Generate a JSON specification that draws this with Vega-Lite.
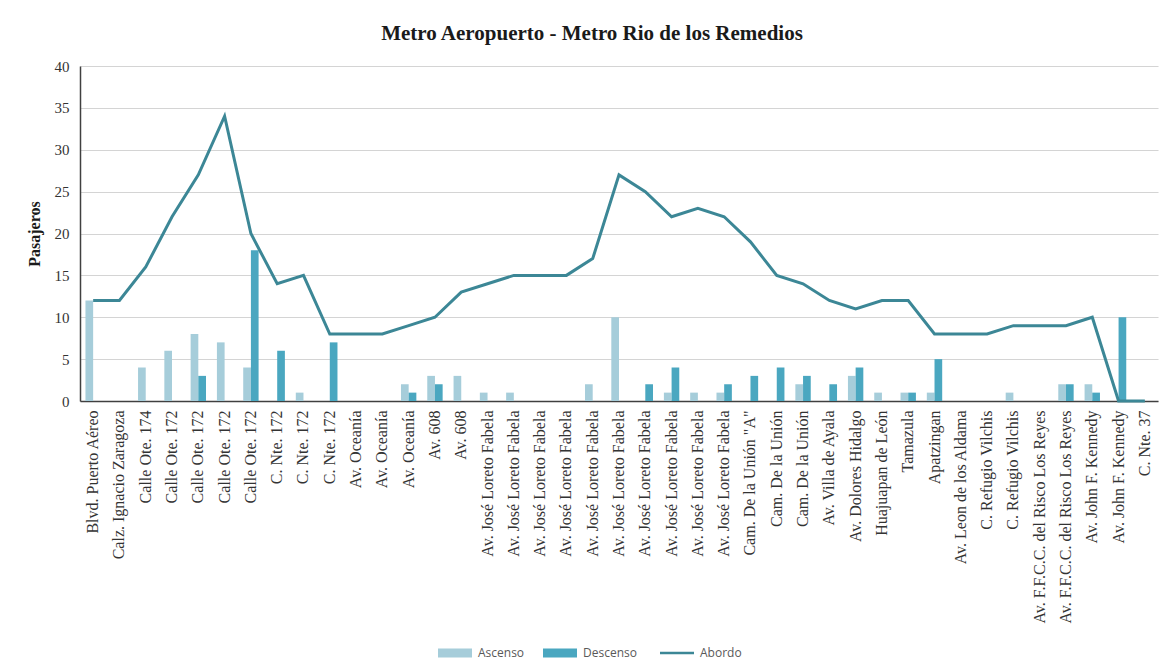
{
  "$schema": "https://vega.github.io/schema/vega-lite/v6.json",
  "autosize": {"type": "none"},
  "width": 1078,
  "height": 335,
  "padding": {"left": 80, "top": 66, "right": 9, "bottom": 270},
  "background": "white",
  "title": {
    "text": "Metro Aeropuerto - Metro Rio de los Remedios",
    "font": "Liberation Serif",
    "fontSize": 21,
    "fontWeight": "bold",
    "color": "#1a1a1a",
    "anchor": "middle",
    "dx": -27,
    "offset": 15
  },
  "data": {
    "values": [
      {"id": "01|Blvd. Puerto Aéreo", "Ascenso": 12, "Descenso": 0, "Abordo": 12},
      {"id": "02|Calz. Ignacio Zaragoza", "Ascenso": 0, "Descenso": 0, "Abordo": 12},
      {"id": "03|Calle Ote. 174", "Ascenso": 4, "Descenso": 0, "Abordo": 16},
      {"id": "04|Calle Ote. 172", "Ascenso": 6, "Descenso": 0, "Abordo": 22},
      {"id": "05|Calle Ote. 172", "Ascenso": 8, "Descenso": 3, "Abordo": 27},
      {"id": "06|Calle Ote. 172", "Ascenso": 7, "Descenso": 0, "Abordo": 34},
      {"id": "07|Calle Ote. 172", "Ascenso": 4, "Descenso": 18, "Abordo": 20},
      {"id": "08|C. Nte. 172", "Ascenso": 0, "Descenso": 6, "Abordo": 14},
      {"id": "09|C. Nte. 172", "Ascenso": 1, "Descenso": 0, "Abordo": 15},
      {"id": "10|C. Nte. 172", "Ascenso": 0, "Descenso": 7, "Abordo": 8},
      {"id": "11|Av. Oceanía", "Ascenso": 0, "Descenso": 0, "Abordo": 8},
      {"id": "12|Av. Oceanía", "Ascenso": 0, "Descenso": 0, "Abordo": 8},
      {"id": "13|Av. Oceanía", "Ascenso": 2, "Descenso": 1, "Abordo": 9},
      {"id": "14|Av. 608", "Ascenso": 3, "Descenso": 2, "Abordo": 10},
      {"id": "15|Av. 608", "Ascenso": 3, "Descenso": 0, "Abordo": 13},
      {"id": "16|Av. José Loreto Fabela", "Ascenso": 1, "Descenso": 0, "Abordo": 14},
      {"id": "17|Av. José Loreto Fabela", "Ascenso": 1, "Descenso": 0, "Abordo": 15},
      {"id": "18|Av. José Loreto Fabela", "Ascenso": 0, "Descenso": 0, "Abordo": 15},
      {"id": "19|Av. José Loreto Fabela", "Ascenso": 0, "Descenso": 0, "Abordo": 15},
      {"id": "20|Av. José Loreto Fabela", "Ascenso": 2, "Descenso": 0, "Abordo": 17},
      {"id": "21|Av. José Loreto Fabela", "Ascenso": 10, "Descenso": 0, "Abordo": 27},
      {"id": "22|Av. José Loreto Fabela", "Ascenso": 0, "Descenso": 2, "Abordo": 25},
      {"id": "23|Av. José Loreto Fabela", "Ascenso": 1, "Descenso": 4, "Abordo": 22},
      {"id": "24|Av. José Loreto Fabela", "Ascenso": 1, "Descenso": 0, "Abordo": 23},
      {"id": "25|Av. José Loreto Fabela", "Ascenso": 1, "Descenso": 2, "Abordo": 22},
      {"id": "26|Cam. De la Unión \"A\"", "Ascenso": 0, "Descenso": 3, "Abordo": 19},
      {"id": "27|Cam. De la Unión", "Ascenso": 0, "Descenso": 4, "Abordo": 15},
      {"id": "28|Cam. De la Unión", "Ascenso": 2, "Descenso": 3, "Abordo": 14},
      {"id": "29|Av. Villa de Ayala", "Ascenso": 0, "Descenso": 2, "Abordo": 12},
      {"id": "30|Av. Dolores Hidalgo", "Ascenso": 3, "Descenso": 4, "Abordo": 11},
      {"id": "31|Huajuapan de León", "Ascenso": 1, "Descenso": 0, "Abordo": 12},
      {"id": "32|Tamazula", "Ascenso": 1, "Descenso": 1, "Abordo": 12},
      {"id": "33|Apatzingan", "Ascenso": 1, "Descenso": 5, "Abordo": 8},
      {"id": "34|Av. Leon de los Aldama", "Ascenso": 0, "Descenso": 0, "Abordo": 8},
      {"id": "35|C. Refugio Vilchis", "Ascenso": 0, "Descenso": 0, "Abordo": 8},
      {"id": "36|C. Refugio Vilchis", "Ascenso": 1, "Descenso": 0, "Abordo": 9},
      {"id": "37|Av. F.F.C.C. del Risco Los Reyes", "Ascenso": 0, "Descenso": 0, "Abordo": 9},
      {"id": "38|Av. F.F.C.C. del Risco Los Reyes", "Ascenso": 2, "Descenso": 2, "Abordo": 9},
      {"id": "39|Av. John F. Kennedy", "Ascenso": 2, "Descenso": 1, "Abordo": 10},
      {"id": "40|Av. John F. Kennedy", "Ascenso": 0, "Descenso": 10, "Abordo": 0},
      {"id": "41|C. Nte. 37", "Ascenso": 0, "Descenso": 0, "Abordo": 0}
    ]
  },
  "encoding": {
    "x": {
      "field": "id",
      "type": "nominal",
      "sort": "ascending",
      "scale": {"paddingInner": 0.415, "paddingOuter": 0.2075},
      "axis": {
        "title": null,
        "labelExpr": "split(datum.value, '|')[1]",
        "labelAngle": -90,
        "labelFont": "Liberation Serif",
        "labelFontSize": 16,
        "labelColor": "#333333",
        "labelPadding": 9,
        "labelLimit": 300,
        "ticks": false,
        "domainColor": "#404040",
        "domainWidth": 1.5,
        "grid": false
      }
    }
  },
  "layer": [
    {
      "transform": [{"fold": ["Ascenso", "Descenso"], "as": ["serie", "valor"]}],
      "mark": {"type": "bar"},
      "encoding": {
        "xOffset": {"field": "serie", "type": "nominal", "scale": {"domain": ["Ascenso", "Descenso"], "paddingInner": 0, "paddingOuter": 0}},
        "y": {
          "field": "valor",
          "type": "quantitative",
          "scale": {"domain": [0, 40]},
          "axis": {
            "title": "Pasajeros",
            "titleFont": "Liberation Serif",
            "titleFontSize": 16,
            "titleFontWeight": "bold",
            "titleColor": "#1a1a1a",
            "titlePadding": 12,
            "values": [0, 5, 10, 15, 20, 25, 30, 35, 40],
            "labelFont": "Liberation Serif",
            "labelFontSize": 15,
            "labelColor": "#333333",
            "labelPadding": 11,
            "ticks": false,
            "domainColor": "#404040",
            "domainWidth": 1.5,
            "gridColor": "#d4d4d4",
            "gridWidth": 1.2
          }
        },
        "color": {
          "field": "serie",
          "type": "nominal",
          "scale": {
            "domain": ["Ascenso", "Descenso", "Abordo"],
            "range": ["#a6cdda", "#4aa7c0", "#3c8796"]
          },
          "legend": {
            "title": null,
            "orient": "none",
            "direction": "horizontal",
            "legendX": 369,
            "legendY": 581,
            "labelFont": "Open Sans",
            "labelFontSize": 12,
            "labelColor": "#595959",
            "labelOffset": 17,
            "columnPadding": 18,
            "symbolSize": 1156,
            "encode": {
              "symbols": {
                "update": {
                  "shape": {"signal": "datum.value === 'Abordo' ? 'M-1,0H1' : 'M-1,-0.26H1V0.26H-1Z'"},
                  "fill": {"signal": "datum.value === 'Abordo' ? 'transparent' : scale('color', datum.value)"},
                  "stroke": {"signal": "datum.value === 'Abordo' ? scale('color', datum.value) : 'transparent'"},
                  "strokeWidth": {"signal": "datum.value === 'Abordo' ? 2.5 : 0"},
                  "opacity": {"value": 1},
                  "fillOpacity": {"value": 1},
                  "strokeOpacity": {"value": 1}
                }
              }
            }
          }
        }
      }
    },
    {
      "mark": {"type": "line", "strokeWidth": 3, "strokeJoin": "miter"},
      "encoding": {
        "y": {"field": "Abordo", "type": "quantitative"},
        "color": {"datum": "Abordo"}
      }
    }
  ],
  "resolve": {"scale": {"color": "shared"}},
  "config": {
    "view": {"stroke": null}
  }
}
